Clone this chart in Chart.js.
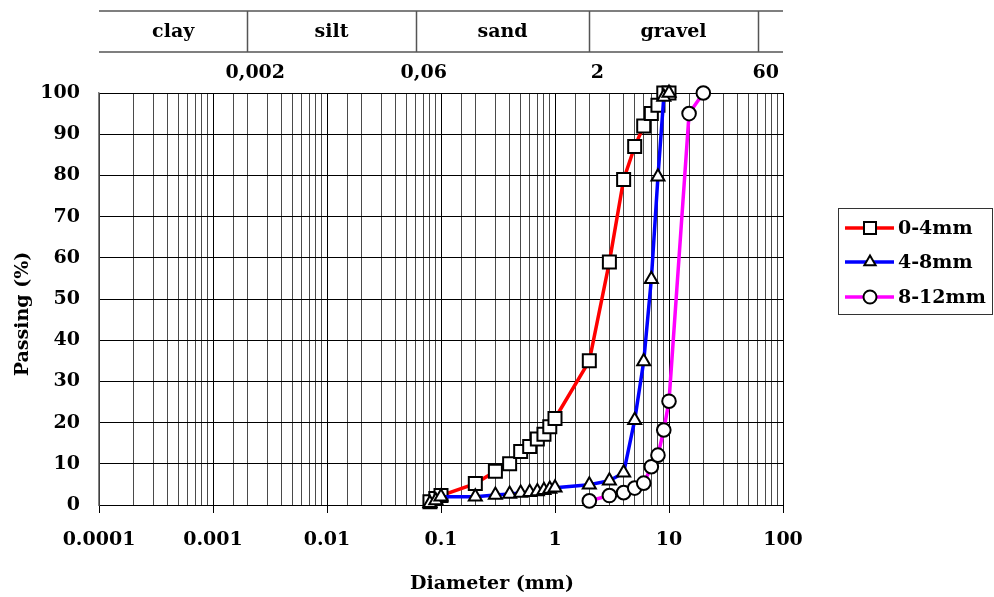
<!DOCTYPE html>
<html>
<head>
<meta charset="utf-8">
<title>Grading curves</title>
<script src="https://cdn.jsdelivr.net/npm/chart.js@4.4.1/dist/chart.umd.min.js"></script>
<style>
    html, body { margin: 0; padding: 0; background: #fff; }
</style>
</head>
<body>
<canvas id="gradingChart" width="994" height="597"></canvas>
<script>
// sieve sizes (mm) and % passing
const sizes0to4 = [0.08, 0.09, 0.1, 0.2, 0.3, 0.4, 0.5, 0.6, 0.7, 0.8, 0.9, 1, 2, 3, 4, 5, 6, 7, 8, 9, 10];
const passing0to4 = [0.8, 1.6, 2.3, 5.2, 8.2, 10, 13, 14.2, 16, 17.2, 19, 21, 35, 59, 79, 87, 92, 95, 97, 100, 100];

const sizes4to8 = [0.08, 0.09, 0.1, 0.2, 0.3, 0.4, 0.5, 0.6, 0.7, 0.8, 0.9, 1, 2, 3, 4, 5, 6, 7, 8, 9, 10];
const passing4to8 = [0.4, 1.1, 2, 2, 2.4, 2.7, 2.9, 3.1, 3.3, 3.6, 3.9, 4.2, 4.9, 5.9, 7.8, 20.6, 34.8, 54.8, 79.7, 99, 100];

const sizes8to12 = [2, 3, 4, 5, 6, 7, 8, 9, 10, 15, 20];
const passing8to12 = [1, 2.3, 3, 4.1, 5.3, 9.3, 12.1, 18.2, 25.2, 95, 100];

const seriesNames = ['0-4mm', '4-8mm', '8-12mm'];

// soil classes band on top
const soilClasses = ['clay', 'silt', 'sand', 'gravel'];
const classLimits = [0.002, 0.06, 2, 60];
const classLimitLabels = ['0,002', '0,06', '2', '60'];

// axis ticks
const xDecades = [0.0001, 0.001, 0.01, 0.1, 1, 10, 100];
const xTickLabels = ['0.0001', '0.001', '0.01', '0.1', '1', '10', '100'];
const yMin = 0;
const yMax = 100;
const yStep = 10;

const FONT = '"DejaVu Serif", "Liberation Serif", serif';
const FONT_SIZE = 19;

function toPoints(xs, ys) {
    return xs.map((x, i) => ({ x: x, y: ys[i] }));
}

function decadeIndex(v) {
    return xDecades.findIndex(d => Math.abs(Math.log10(v) - Math.log10(d)) < 1e-6);
}

// header table, legend and axis titles
const extrasPlugin = {
    id: 'extras',
    afterDraw(chart) {
        const ctx = chart.ctx;
        const xs = chart.scales.x;
        const area = chart.chartArea;
        ctx.save();

        // soil class table
        const topY = 11, midY = 52;
        ctx.strokeStyle = '#555';
        ctx.lineWidth = 1.5;
        ctx.beginPath();
        ctx.moveTo(area.left, topY);
        ctx.lineTo(area.right, topY);
        ctx.moveTo(area.left, midY);
        ctx.lineTo(area.right, midY);
        classLimits.forEach(v => {
            const px = Math.round(xs.getPixelForValue(v)) + 0.5;
            ctx.moveTo(px, topY);
            ctx.lineTo(px, midY);
        });
        ctx.stroke();

        ctx.fillStyle = '#000';
        ctx.font = 'bold ' + FONT_SIZE + 'px ' + FONT;
        ctx.textAlign = 'center';
        ctx.textBaseline = 'middle';
        soilClasses.forEach((name, i) => {
            const x0 = i === 0 ? area.left : xs.getPixelForValue(classLimits[i - 1]);
            const x1 = xs.getPixelForValue(classLimits[i]);
            ctx.fillText(name, (x0 + x1) / 2, 32);
        });
        classLimitLabels.forEach((lbl, i) => {
            ctx.fillText(lbl, xs.getPixelForValue(classLimits[i]) + 8, 73);
        });

        // axis titles
        ctx.fillText('Diameter (mm)', 492, 584);
        ctx.save();
        ctx.translate(23, 314);
        ctx.rotate(-Math.PI / 2);
        ctx.fillText('Passing (%)', 0, 0);
        ctx.restore();

        // legend
        const box = { left: 838, top: 208, right: 992, bottom: 314 };
        ctx.strokeStyle = '#333';
        ctx.lineWidth = 1;
        ctx.strokeRect(box.left + 0.5, box.top + 0.5, box.right - box.left, box.bottom - box.top);
        const rowY = [228, 262, 297];
        chart.data.datasets.forEach((ds, i) => {
            const y = rowY[i];
            ctx.strokeStyle = ds.borderColor;
            ctx.lineWidth = ds.borderWidth;
            ctx.beginPath();
            ctx.moveTo(845, y);
            ctx.lineTo(894, y);
            ctx.stroke();
            ctx.fillStyle = '#fff';
            ctx.strokeStyle = '#000';
            ctx.lineWidth = 2;
            Chart.helpers.drawPoint(ctx, {
                pointStyle: ds.pointStyle,
                radius: ds.pointStyle === 'rect' ? 8.5 : 6.5,
                rotation: 0,
                borderWidth: 2
            }, 870, y);
            ctx.fillStyle = '#000';
            ctx.textAlign = 'left';
            ctx.textBaseline = 'middle';
            ctx.fillText(ds.label, 898, y + 1);
        });

        ctx.restore();
    }
};

function makeDataset(label, xs, ys, color, style, radius, order) {
    return {
        label: label,
        data: toPoints(xs, ys),
        borderColor: color,
        borderWidth: 3.5,
        pointStyle: style,
        pointRadius: radius,
        pointHoverRadius: radius,
        pointBackgroundColor: '#fff',
        pointBorderColor: '#000',
        pointBorderWidth: 2,
        tension: 0,
        clip: false,
        order: order
    };
}

const ctx = document.getElementById('gradingChart').getContext('2d');
new Chart(ctx, {
    type: 'line',
    data: {
        datasets: [
            makeDataset(seriesNames[0], sizes0to4, passing0to4, '#ff0000', 'rect', 9.2, 3),
            makeDataset(seriesNames[1], sizes4to8, passing4to8, '#0000ff', 'triangle', 7.5, 2),
            makeDataset(seriesNames[2], sizes8to12, passing8to12, '#ff00ff', 'circle', 6.8, 1)
        ]
    },
    options: {
        responsive: false,
        devicePixelRatio: 1,
        animation: false,
        layout: { padding: { top: 93, right: 211, left: 0, bottom: 0 } },
        plugins: {
            legend: { display: false },
            tooltip: { enabled: false }
        },
        scales: {
            x: {
                type: 'logarithmic',
                min: xDecades[0],
                max: xDecades[xDecades.length - 1],
                afterFit: (scale) => { scale.height = 92; },
                border: { color: '#000', width: 1 },
                grid: {
                    color: (c) => (c.tick && decadeIndex(c.tick.value) >= 0) ? '#000' : '#4a4a4a',
                    tickColor: (c) => (c.tick && decadeIndex(c.tick.value) >= 0) ? '#000' : 'rgba(0,0,0,0)',
                    tickLength: 8,
                    lineWidth: 1
                },
                ticks: {
                    autoSkip: false,
                    maxRotation: 0,
                    padding: 16,
                    color: '#000',
                    font: { family: FONT, size: FONT_SIZE, weight: 'bold' },
                    callback: (value) => {
                        const i = decadeIndex(value);
                        return i >= 0 ? xTickLabels[i] : '';
                    }
                }
            },
            y: {
                min: yMin,
                max: yMax,
                afterFit: (scale) => { scale.width = 99; },
                border: { color: '#808080', width: 1.5 },
                grid: {
                    color: '#000',
                    lineWidth: 1,
                    drawTicks: false
                },
                ticks: {
                    stepSize: yStep,
                    padding: 19,
                    color: '#000',
                    font: { family: FONT, size: FONT_SIZE, weight: 'bold' }
                }
            }
        }
    },
    plugins: [extrasPlugin]
});
</script>
</body>
</html>
